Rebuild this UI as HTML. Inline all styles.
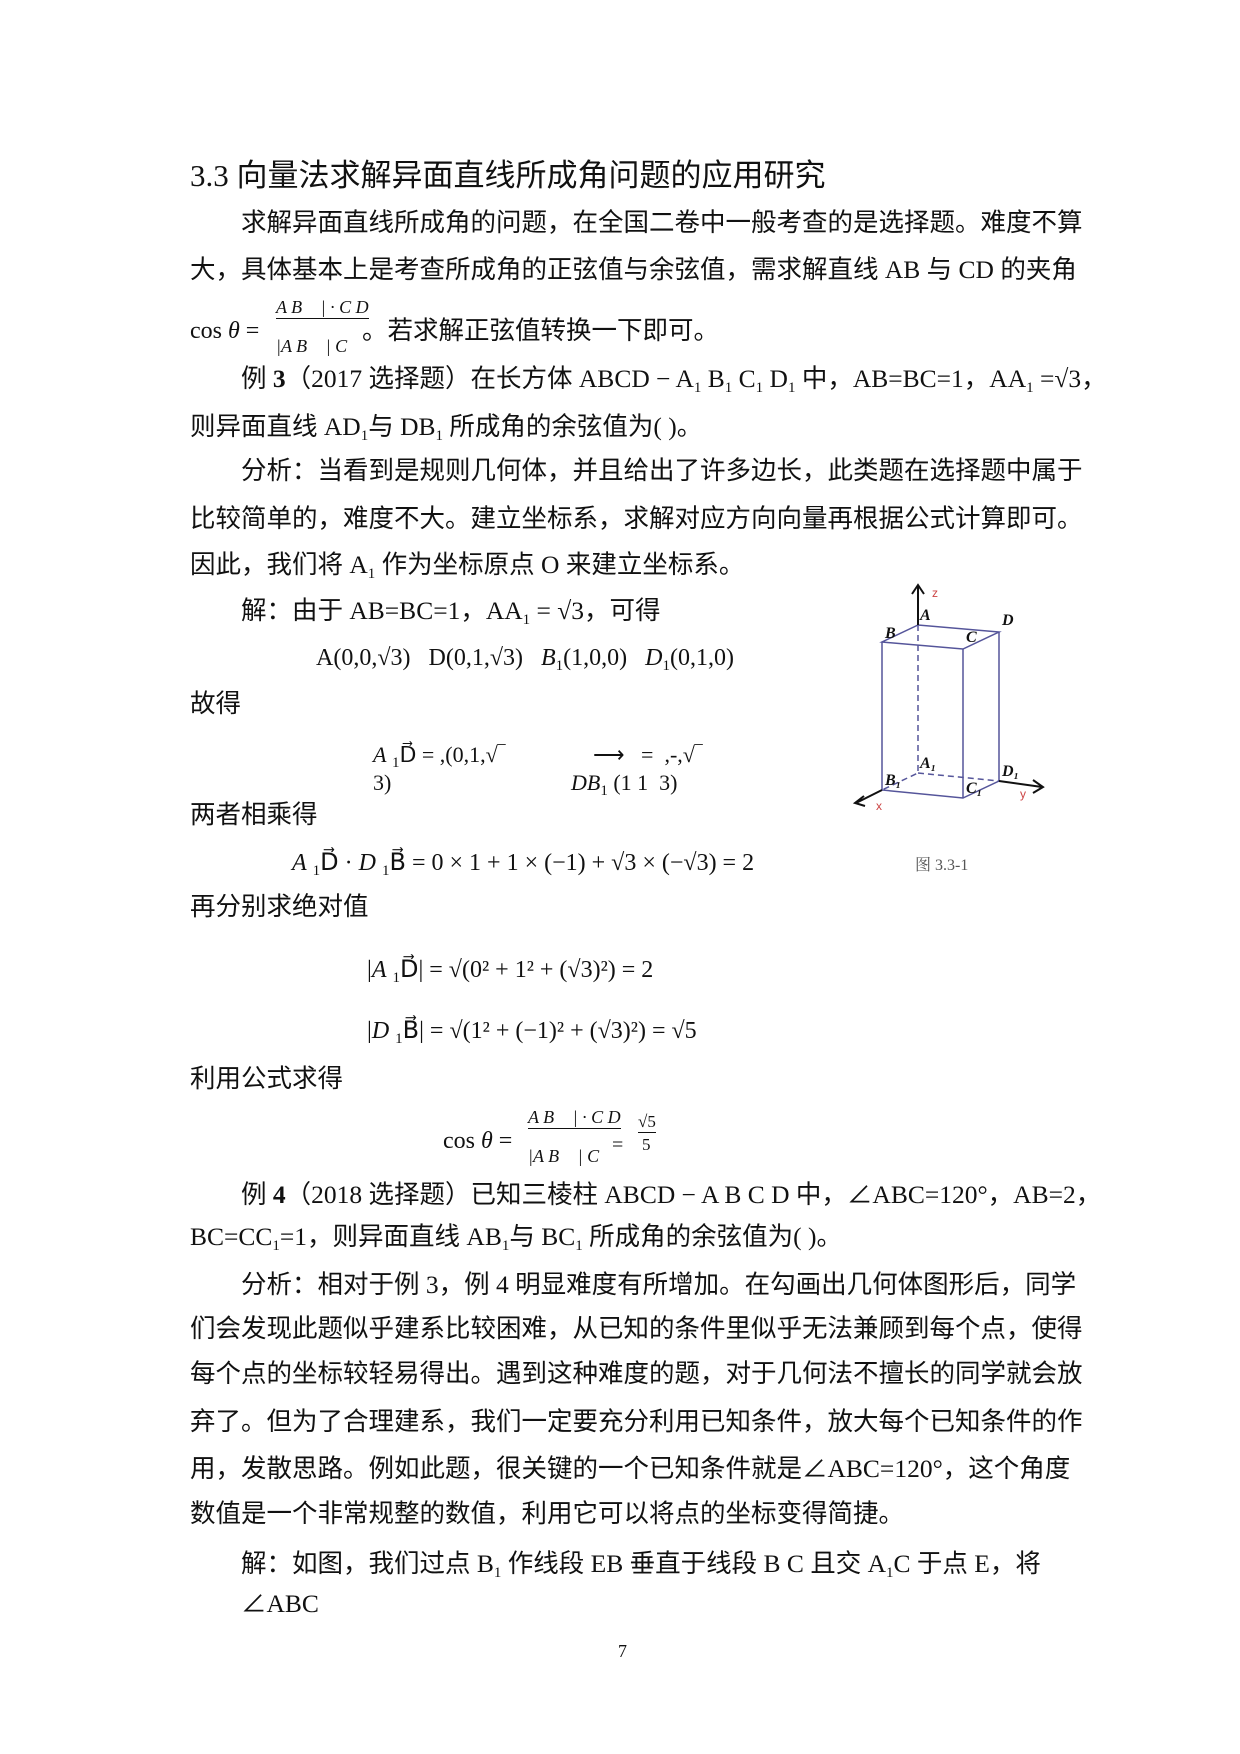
<!DOCTYPE html>
<html><head><meta charset="utf-8"><style>
html,body{margin:0;padding:0;background:#fff}
body{width:1240px;height:1754px;position:relative;overflow:hidden;font-family:"Liberation Serif","Noto Sans CJK SC",serif;color:#111}
.l{position:absolute;white-space:nowrap;font-size:25.5px;line-height:30px}
.s{font-family:"Liberation Serif","Noto Sans CJK SC",serif}
sub{font-size:15px;vertical-align:-5px}
sup{font-size:14px}
.m{font-size:24px}
</style></head><body>
<div class="l" style="left:190px;top:158px;font-size:31px;line-height:36px">3.3 向量法求解异面直线所成角问题的应用研究</div>
<div class="l" style="left:241px;top:208px">求解异面直线所成角的问题，在全国二卷中一般考查的是选择题。难度不算</div>
<div class="l" style="left:190px;top:255px">大，具体基本上是考查所成角的正弦值与余弦值，需求解直线 AB 与 CD 的夹角</div>
<div class="l m" style="left:190px;top:316px">cos <i>θ</i> =</div>
<div class="l m" style="left:276px;top:296px;font-size:18px;font-style:italic;border-bottom:1px solid #111;line-height:22px">A B⃗ | · C D</div>
<div class="l m" style="left:276px;top:335px;font-size:18px;font-style:italic;line-height:22px">|A B⃗ | C</div>
<div class="l" style="left:362px;top:316px">。若求解正弦值转换一下即可。</div>
<div class="l" style="left:241px;top:364px">例 <b>3</b>（2017 选择题）在长方体 ABCD − A<sub>1</sub> B<sub>1</sub> C<sub>1</sub> D<sub>1</sub> 中，AB=BC=1，AA<sub>1</sub> =√3，</div>
<div class="l" style="left:190px;top:412px">则异面直线 AD<sub>1</sub>与 DB<sub>1</sub> 所成角的余弦值为( )。</div>
<div class="l" style="left:241px;top:456px">分析：当看到是规则几何体，并且给出了许多边长，此类题在选择题中属于</div>
<div class="l" style="left:190px;top:504px">比较简单的，难度不大。建立坐标系，求解对应方向向量再根据公式计算即可。</div>
<div class="l" style="left:190px;top:550px">因此，我们将 A<sub>1</sub> 作为坐标原点 O 来建立坐标系。</div>
<div class="l" style="left:241px;top:596px">解：由于 AB=BC=1，AA<sub>1</sub> = √3，可得</div>
<div class="l m" style="left:316px;top:643px">A(0,0,√3) &nbsp; D(0,1,√3) &nbsp; <i>B</i><sub>1</sub>(1,0,0) &nbsp; <i>D</i><sub>1</sub>(0,1,0)</div>
<div class="l" style="left:190px;top:689px">故得</div>
<div class="l m" style="left:373px;top:740px;font-size:22px"><i>A</i> <sub>1</sub>D⃗ = ,(0,1,√‾</div>
<div class="l m" style="left:373px;top:768px;font-size:22px">3)</div>
<div class="l m" style="left:571px;top:740px;font-size:22px">&nbsp;&nbsp;&nbsp;&nbsp;⟶ &nbsp; = &nbsp;,-,√‾</div>
<div class="l m" style="left:571px;top:768px;font-size:22px"><i>DB</i><sub>1</sub> (1 1 &nbsp;3)</div>
<div class="l" style="left:190px;top:800px">两者相乘得</div>
<div class="l m" style="left:292px;top:848px"><i>A</i> <sub>1</sub>D⃗ · <i>D</i> <sub>1</sub>B⃗ = 0 × 1 + 1 × (−1) + √3 × (−√3) = 2</div>
<div class="l" style="left:190px;top:892px">再分别求绝对值</div>
<div class="l m" style="left:367px;top:955px">|<i>A</i> <sub>1</sub>D⃗| = √(0² + 1² + (√3)²) = 2</div>
<div class="l m" style="left:367px;top:1016px">|<i>D</i> <sub>1</sub>B⃗| = √(1² + (−1)² + (√3)²) = √5</div>
<div class="l" style="left:190px;top:1064px">利用公式求得</div>
<div class="l m" style="left:443px;top:1126px">cos <i>θ</i> =</div>
<div class="l" style="left:528px;top:1106px;font-size:18px;font-style:italic;border-bottom:1px solid #111;line-height:22px">A B⃗ | · C D</div>
<div class="l" style="left:528px;top:1145px;font-size:18px;font-style:italic;line-height:22px">|A B⃗ | C</div>
<div class="l" style="left:612px;top:1130px;font-size:20px">=</div>
<div class="l" style="left:638px;top:1112px;font-size:17px;border-bottom:1px solid #111;line-height:20px">√5</div>
<div class="l" style="left:642px;top:1135px;font-size:17px;line-height:20px">5</div>
<div class="l" style="left:241px;top:1180px">例 <b>4</b>（2018 选择题）已知三棱柱 ABCD − A B C D 中，∠ABC=120°，AB=2，</div>
<div class="l" style="left:190px;top:1222px">BC=CC<sub>1</sub>=1，则异面直线 AB<sub>1</sub>与 BC<sub>1</sub> 所成角的余弦值为( )。</div>
<div class="l" style="left:241px;top:1270px">分析：相对于例 3，例 4 明显难度有所增加。在勾画出几何体图形后，同学</div>
<div class="l" style="left:190px;top:1314px">们会发现此题似乎建系比较困难，从已知的条件里似乎无法兼顾到每个点，使得</div>
<div class="l" style="left:190px;top:1359px">每个点的坐标较轻易得出。遇到这种难度的题，对于几何法不擅长的同学就会放</div>
<div class="l" style="left:190px;top:1407px">弃了。但为了合理建系，我们一定要充分利用已知条件，放大每个已知条件的作</div>
<div class="l" style="left:190px;top:1454px">用，发散思路。例如此题，很关键的一个已知条件就是∠ABC=120°，这个角度</div>
<div class="l" style="left:190px;top:1499px">数值是一个非常规整的数值，利用它可以将点的坐标变得简捷。</div>
<div class="l" style="left:241px;top:1549px">解：如图，我们过点 B<sub>1</sub> 作线段 EB 垂直于线段 B C 且交 A<sub>1</sub>C 于点 E，将</div>
<div class="l" style="left:241px;top:1589px">∠ABC</div>
<div class="l" style="left:618px;top:1636px;font-size:18px">7</div>
<svg style="position:absolute;left:0;top:0" width="1240" height="1754">
<g stroke="#55559a" stroke-width="1.5" fill="none">
<path d="M918 625 L882 642 L963 649 L999 632 Z"/>
<path d="M882 642 V790 L963 798 L999 781 V632 M963 649 V798"/>
<path d="M918 625 V773 L882 790 M918 773 L999 781" stroke-dasharray="6 4"/>
</g>
<g stroke="#111" stroke-width="2" fill="none">
<path d="M918 625 V586 M912 594 L918 585 L924 594"/>
<path d="M882 790 L856 803 M864 796 L855 803 L865 806"/>
<path d="M999 781 L1042 787 M1033 780 L1043 787 L1033 793"/>
</g>
<g font-family="Liberation Serif" font-style="italic" font-weight="bold" font-size="16" fill="#111">
<text x="920" y="620">A</text><text x="885" y="638">B</text><text x="966" y="642">C</text><text x="1002" y="625">D</text>
<text x="920" y="768">A₁</text><text x="885" y="785">B₁</text><text x="966" y="793">C₁</text><text x="1002" y="776">D₁</text>
</g>
<g font-family="Liberation Sans" font-size="12" fill="#c44">
<text x="932" y="597">z</text><text x="876" y="810">x</text><text x="1020" y="798">y</text>
</g>
<text x="915" y="870" font-family="Liberation Serif,Noto Serif CJK SC,serif" font-size="16" fill="#555">图 3.3-1</text>
</svg>
</body></html>
